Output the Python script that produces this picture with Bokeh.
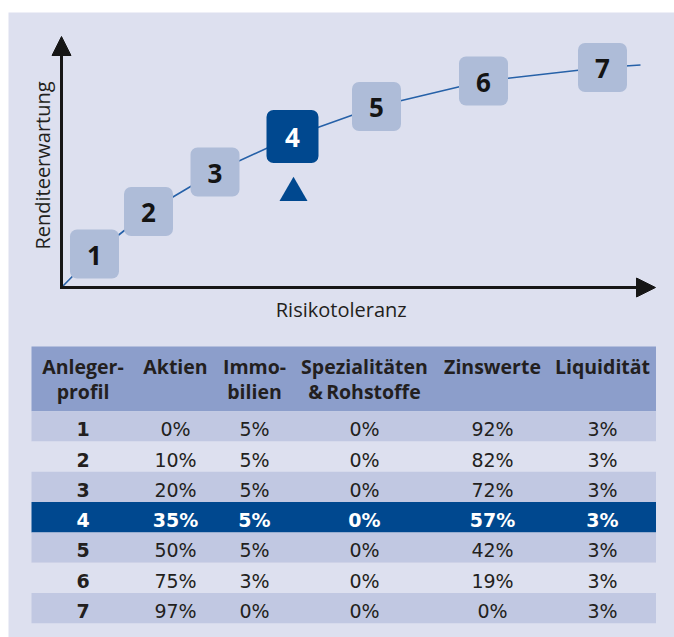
from bokeh.plotting import figure
from bokeh.models import Range1d, Arrow, NormalHead, Spacer, ColumnDataSource
from bokeh.layouts import column, row
from bokeh.embed import file_html
from bokeh.resources import INLINE
from bokeh.core.properties import value

# ---------------- data ----------------
profiles = ["1", "2", "3", "4", "5", "6", "7"]
# position of each profile on the chart (Risikotoleranz, Renditeerwartung)
risk = [33, 87, 153.5, 231, 315, 422, 541]
ret = [33.5, 76, 115.5, 151, 181, 206.5, 220]
curve_end_risk = 579
curve_end_ret = 222.5
selected = 3  # profile 4

header_line1 = ["Anleger-", "Aktien", "Immo-", "Spezialitäten", "Zinswerte", "Liquidität"]
header_line2 = ["profil", "", "bilien", "&\u2009Rohstoffe", "", ""]
aktien = [0, 10, 20, 35, 50, 75, 97]
immobilien = [5, 5, 5, 5, 5, 3, 0]
spezialitaeten = [0, 0, 0, 0, 0, 0, 0]
zinswerte = [92, 82, 72, 57, 42, 19, 0]
liquiditaet = [3, 3, 3, 3, 3, 3, 3]

# ---------------- style ----------------
BG = "#dde0ef"
BOX = "#aebcd8"
DARK = "#00488f"
HEAD = "#8c9ecb"
ROW_A = "#c1c8e2"
TXT = "#231f20"
AX = "#161616"
CURVE = "#2661a8"
FONT = value("Open Sans")
VFONT = value("DejaVu Sans")
W = 666
H = 625

# one figure: default ranges for the chart, extra ranges for the table
p = figure(width=W, height=H, x_range=Range1d(-53, 613), y_range=Range1d(275 - H, 275),
           output_backend="svg", toolbar_location=None, min_border=0,
           x_axis_location=None, y_axis_location=None,
           background_fill_color=BG, border_fill_color=BG, outline_line_color=None)
p.grid.visible = False
p.extra_x_ranges = {"tx": Range1d(0, W)}
p.extra_y_ranges = {"ty": Range1d(297, 297 - H)}

# ---------------- chart ----------------
p.line([0] + risk + [curve_end_risk], [0] + ret + [curve_end_ret],
       line_color=CURVE, line_width=1.6)

p.add_layout(Arrow(end=NormalHead(size=19, fill_color=AX, line_color=AX, line_width=1),
                   x_start=-1.5, y_start=0, x_end=594, y_end=0,
                   line_width=3, line_color=AX))
p.add_layout(Arrow(end=NormalHead(size=19, fill_color=AX, line_color=AX, line_width=1),
                   x_start=0, y_start=-1.5, x_end=0, y_end=251,
                   line_width=3, line_color=AX))

box_src = ColumnDataSource(dict(
    x=risk, y=ret, label=profiles,
    w=[52 if i == selected else 49 for i in range(len(profiles))],
    h=[53 if i == selected else 49 for i in range(len(profiles))],
    fill=[DARK if i == selected else BOX for i in range(len(profiles))],
    tc=["white" if i == selected else "#141414" for i in range(len(profiles))],
))
p.rect(x="x", y="y", width="w", height="h", source=box_src, fill_color="fill",
       line_color=None, border_radius=7)
p.text(x="x", y="y", text="label", source=box_src, text_align="center",
       text_baseline="middle", text_font=FONT, text_font_style="bold",
       text_font_size="26px", text_color="tc", y_offset=1)

p.scatter(x=[risk[selected] + 1], y=[ret[selected] - 56.5], marker="triangle",
          size=28, fill_color=DARK, line_color=None)

p.text(x=[279.7], y=[-21.5], text=["Risikotoleranz"], text_align="center",
       text_baseline="middle", text_font=FONT, text_font_size="20px",
       text_color=TXT)
p.text(x=[-19.5], y=[122], text=["Renditeerwartung"], angle=1.5707963,
       text_align="center", text_baseline="middle", text_font=FONT,
       text_font_size="20px", text_color=TXT)

# ---------------- table ----------------
left, right = 23, 647.5
head_top, head_bot = 6, 70.7
row_h = 30.3
col_x = [74.5, 167, 246, 356, 484, 594]
T = dict(x_range_name="tx", y_range_name="ty")

p.quad(left=[left], right=[right], top=[head_top], bottom=[head_bot],
       fill_color=HEAD, line_color=None, **T)

n = len(profiles)
row_tops = [head_bot + row_h * i for i in range(n)]
row_fill = [DARK if i == selected else (ROW_A if i % 2 == 0 else BG) for i in range(n)]
p.quad(left=[left] * n, right=[right] * n, top=row_tops,
       bottom=[t + row_h for t in row_tops], fill_color=row_fill, line_color=None, **T)

p.text(x=col_x, y=[25.7] * 6, text=header_line1, text_align="center",
       text_baseline="middle", text_font=FONT, text_font_style="bold",
       text_font_size="19.5px", text_color=TXT, **T)
p.text(x=col_x, y=[50.7] * 6, text=header_line2, text_align="center",
       text_baseline="middle", text_font=FONT, text_font_style="bold",
       text_font_size="19.5px", text_color=TXT, **T)

columns = [aktien, immobilien, spezialitaeten, zinswerte, liquiditaet]
cx, cy, ct, cc, cs = [], [], [], [], []
for i in range(n):
    mid = row_tops[i] + 18
    cx.append(col_x[0]); cy.append(mid); ct.append(profiles[i])
    cc.append("white" if i == selected else TXT); cs.append("bold")
    for j, col in enumerate(columns):
        cx.append(col_x[j + 1]); cy.append(mid); ct.append(f"{col[i]}%")
        cc.append("white" if i == selected else TXT)
        cs.append("bold" if i == selected else "normal")
cell_src = ColumnDataSource(dict(x=cx, y=cy, t=ct, c=cc, s=cs))
p.text(x="x", y="y", text="t", source=cell_src, text_align="center",
       text_baseline="middle", text_font=VFONT, text_font_style="s",
       text_font_size="19px", text_color="c", **T)

layout = row(Spacer(width=8, height=637),
             column(Spacer(width=W, height=12), p, spacing=0),
             spacing=0)
open("out.html", "w").write(file_html(layout, INLINE))
